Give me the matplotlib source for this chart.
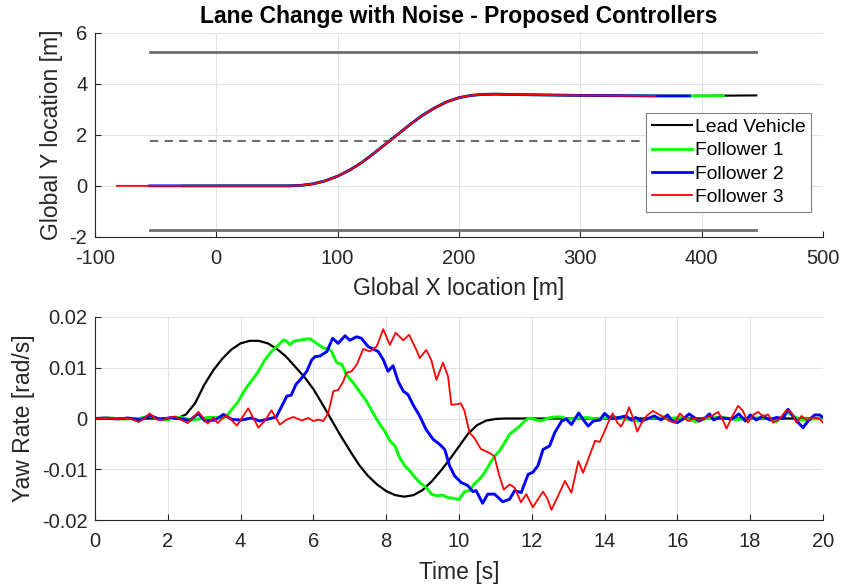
import matplotlib
matplotlib.use("Agg")
import matplotlib.pyplot as plt
import numpy as np

plt.rcParams['font.family'] = ['Liberation Sans', 'DejaVu Sans']
plt.rcParams['axes.unicode_minus'] = False

# ---------------- Top plot data (path in the global frame) ----------------
path_x = [-82, -55, -28, 0, 30, 60, 70, 80, 90, 100, 110, 120, 130, 140, 150, 160,
          170, 180, 190, 200, 210, 220, 230, 250, 300, 362, 390, 418, 445]
path_y = [0.0, 0.0, 0.0, 0.0, 0.0, 0.0, 0.02, 0.08, 0.2, 0.38, 0.62, 0.92, 1.28,
          1.66, 2.04, 2.42, 2.77, 3.06, 3.3, 3.46, 3.55, 3.59, 3.6, 3.58, 3.55,
          3.53, 3.53, 3.54, 3.55]
vehicle_names = ['Lead Vehicle', 'Follower 1', 'Follower 2', 'Follower 3']
vehicle_start_x = [0, -28, -55, -82]
vehicle_end_x = [445, 418, 390, 362]
lane_edges_y = [5.25, -1.75]
lane_center_y = 1.75
lane_x_range = [-55, 445]

# ---------------- Bottom plot data (yaw rate) ----------------
t_lead = [0, 2.25, 2.5, 2.75, 3.0, 3.25, 3.5, 3.75, 4.0, 4.25, 4.5, 4.75, 5.0, 5.25,
          5.5, 5.75, 6.0, 6.25, 6.5, 6.75, 7.0, 7.25, 7.5, 7.75, 8.0, 8.25, 8.5,
          8.75, 9.0, 9.25, 9.5, 9.75, 10.0, 10.25, 10.5, 10.75, 11.0, 11.25, 20.0]
r_lead = [0, 0, 0.0008, 0.003, 0.0066, 0.0095, 0.0118, 0.0136, 0.0148, 0.0153,
          0.0153, 0.0148, 0.0137, 0.0122, 0.0102, 0.0082, 0.0058, 0.0028, -0.0003,
          -0.0034, -0.0063, -0.0091, -0.0113, -0.0130, -0.0143, -0.0151, -0.0154,
          -0.0151, -0.0141, -0.0124, -0.0103, -0.0080, -0.0055, -0.0030, -0.0013,
          -0.0004, -0.0001, 0, 0]

t_f1 = [0, 0.4, 0.8, 1.2, 1.51, 1.75, 1.97, 2.2, 2.38, 2.66, 2.93, 3.1, 3.3, 3.53,
        3.65, 3.76, 3.94, 4.12, 4.31, 4.49, 4.67, 4.85, 5.04, 5.18, 5.27, 5.36,
        5.45, 5.59, 5.77, 5.91, 6.09, 6.27, 6.41, 6.5, 6.64, 6.78, 6.91, 7.1, 7.28,
        7.46, 7.64, 7.83, 7.96, 8.1, 8.24, 8.37, 8.51, 8.65, 8.79, 8.92, 9.1, 9.24,
        9.38, 9.56, 9.7, 9.84, 10.0, 10.15, 10.29, 10.42, 10.56, 10.7, 10.84,
        10.98, 11.11, 11.25, 11.39, 11.53, 11.67, 11.8, 11.94, 12.08, 12.26,
        12.45, 12.63, 12.82, 12.95, 13.2, 13.5, 13.8, 14.22, 14.5, 14.95, 15.33,
        15.7, 16.1, 16.5, 16.8, 17.2, 17.6, 18.0, 18.4, 18.72, 19.04, 19.36,
        19.73, 20.0]
r_f1 = [0, 0.0001, -0.0001, 0.0, 0.0005, -0.0001, -0.0003, 0.0002, 0.0002, -0.0003,
        0.0, 0.0002, 0.0002, 0.0001, 0.0008, 0.0018, 0.0034, 0.0057, 0.0075,
        0.0093, 0.0116, 0.0132, 0.0145, 0.0155, 0.0152, 0.0145, 0.0152, 0.0154,
        0.0156, 0.0157, 0.0148, 0.0139, 0.0137, 0.0132, 0.011, 0.0107, 0.0086,
        0.007, 0.0052, 0.0034, 0.0011, -0.0012, -0.0025, -0.0044, -0.0054,
        -0.0077, -0.0093, -0.0103, -0.0116, -0.0126, -0.0136, -0.0149, -0.0152,
        -0.0151, -0.0156, -0.0157, -0.016, -0.0144, -0.0142, -0.0129, -0.012,
        -0.0107, -0.009, -0.0074, -0.0064, -0.0048, -0.0031, -0.0023, -0.0015,
        -0.0005, 0.0001, -0.0002, -0.0005, 0.0001, 0.0003, 0.0003, -0.0001, 0.0,
        0.0002, -0.0001, 0.0004, 0.0, -0.0005, 0.0002, 0.0, 0.0002, -0.0006, 0.0,
        0.0003, -0.0002, 0.0, 0.0002, -0.0006, 0.0012, -0.0003, -0.0001, 0.0]

t_f2 = [0, 0.3, 0.6, 0.9, 1.24, 1.51, 1.8, 2.1, 2.4, 2.6, 2.84, 3.02, 3.3, 3.53,
        3.76, 4.03, 4.3, 4.52, 4.76, 4.98, 5.13, 5.27, 5.39, 5.52, 5.68, 5.82,
        5.95, 6.05, 6.18, 6.37, 6.53, 6.68, 6.87, 7.0, 7.19, 7.32, 7.5, 7.64, 7.78,
        7.92, 8.05, 8.19, 8.33, 8.47, 8.6, 8.74, 8.92, 9.1, 9.29, 9.47, 9.61,
        9.74, 9.88, 10.06, 10.24, 10.38, 10.47, 10.65, 10.79, 10.98, 11.2, 11.39,
        11.53, 11.71, 11.9, 12.03, 12.17, 12.31, 12.49, 12.63, 12.82, 12.95,
        13.09, 13.29, 13.41, 13.55, 13.69, 13.87, 14.0, 14.13, 14.27, 14.4,
        14.59, 14.73, 14.86, 15.0, 15.19, 15.37, 15.55, 15.73, 15.86, 16.0,
        16.18, 16.32, 16.46, 16.6, 16.78, 16.88, 17.0, 17.14, 17.33, 17.5, 17.69,
        17.87, 18.0, 18.17, 18.35, 18.54, 18.72, 18.9, 19.04, 19.18, 19.32,
        19.45, 19.59, 19.77, 19.91, 20.0]
r_f2 = [0, 0.0001, -0.0001, 0.0001, -0.0003, 0.0006, -0.0002, 0.0002, -0.0001,
        -0.0004, 0.001, -0.0005, -0.0003, 0.0008, -0.0002, -0.0003, 0.0001,
        -0.0005, -0.0001, 0.0003, 0.0024, 0.0044, 0.0046, 0.0067, 0.008, 0.0093,
        0.0115, 0.0122, 0.0123, 0.0132, 0.0158, 0.0148, 0.0163, 0.0154, 0.0161,
        0.0158, 0.0142, 0.0137, 0.0132, 0.0116, 0.0093, 0.0104, 0.0073, 0.0054,
        0.0047, 0.0027, 0.0005, -0.0022, -0.0041, -0.0051, -0.0061, -0.0093,
        -0.0113, -0.0126, -0.0132, -0.0144, -0.0142, -0.0167, -0.0149, -0.0149,
        -0.0164, -0.0159, -0.0142, -0.0146, -0.011, -0.0106, -0.0093, -0.0061,
        -0.0054, -0.0028, -0.0005, -0.0001, -0.0012, 0.0011, -0.0002, -0.0015,
        -0.0005, -0.0003, 0.001, 0.0002, 0.0, 0.0002, 0.0005, -0.0003, 0.0002,
        -0.0005, 0.0, 0.0005, -0.0003, 0.0007, -0.0005, -0.0008, 0.0, 0.0009,
        0.0002, -0.0005, 0.0002, 0.0009, -0.0003, 0.0002, 0.0, -0.0001, 0.0009,
        -0.0005, 0.0007, -0.0003, 0.0005, -0.0003, 0.0002, 0.0, 0.0018, 0.0004,
        -0.0008, -0.0018, -0.0005, 0.0007, 0.0007, 0.0002]

t_f3 = [0, 0.4, 0.6, 0.8, 1.0, 1.2, 1.35, 1.5, 1.7, 1.85, 2.0, 2.2, 2.35, 2.55,
        2.84, 3.1, 3.25, 3.37, 3.5, 3.62, 3.9, 4.21, 4.49, 4.67, 4.85, 5.08, 5.27,
        5.45, 5.68, 5.86, 6.0, 6.14, 6.27, 6.41, 6.55, 6.68, 6.82, 6.91, 7.05,
        7.19, 7.37, 7.55, 7.74, 7.92, 8.1, 8.26, 8.47, 8.63, 8.83, 8.92, 9.1,
        9.24, 9.38, 9.56, 9.7, 9.79, 9.93, 10.05, 10.15, 10.29, 10.42, 10.6,
        10.79, 10.97, 11.11, 11.23, 11.39, 11.53, 11.7, 11.85, 12.03, 12.17,
        12.31, 12.43, 12.54, 12.68, 12.91, 13.09, 13.28, 13.41, 13.55, 13.74,
        13.87, 14.0, 14.1, 14.22, 14.35, 14.45, 14.55, 14.67, 14.78, 14.9, 15.0,
        15.15, 15.33, 15.47, 15.65, 15.78, 15.93, 16.07, 16.21, 16.3, 16.44,
        16.62, 16.8, 16.94, 17.12, 17.26, 17.35, 17.49, 17.67, 17.8, 17.94,
        18.08, 18.22, 18.35, 18.49, 18.63, 18.81, 19.0, 19.13, 19.27, 19.41,
        19.55, 19.73, 19.91, 20.0]
r_f3 = [0, 0.0001, -0.0001, 0.0001, -0.0001, -0.0007, 0.0, 0.001, -0.0002, -0.0003,
        0.0001, 0.0004, -0.0002, -0.0009, 0.0013, -0.001, 0.0002, -0.0009, 0.0,
        0.0006, -0.0014, 0.002, -0.0018, -0.0004, 0.0016, -0.0012, -0.0002,
        0.0003, -0.0004, 0.0001, -0.0005, -0.0002, -0.0005, 0.0011, 0.0054,
        0.0056, 0.0073, 0.009, 0.0093, 0.0106, 0.0137, 0.0132, 0.0142, 0.0176,
        0.0145, 0.0169, 0.0154, 0.0165, 0.0135, 0.0119, 0.0135, 0.0115, 0.0076,
        0.011, 0.0083, 0.0027, 0.0028, 0.003, 0.0015, -0.0028, -0.0038, -0.006,
        -0.0066, -0.0074, -0.0113, -0.014, -0.013, -0.0136, -0.0165, -0.0149,
        -0.0175, -0.0159, -0.0144, -0.0158, -0.018, -0.0159, -0.0123, -0.0146,
        -0.0084, -0.0107, -0.008, -0.0044, -0.0046, -0.0025, -0.0008, 0.001,
        -0.0008, -0.0016, -0.0003, 0.0022, 0.0002, -0.0026, -0.0011, 0.0005,
        0.0015, 0.0009, 0.0002, -0.0005, -0.0008, 0.001, 0.0, -0.0005, 0.0,
        -0.0003, 0.0002, 0.0005, 0.0013, -0.0005, -0.002, 0.0002, 0.0025, 0.0015,
        -0.0008, 0.0007, 0.0013, 0.0004, 0.0008, -0.0008, -0.0001, 0.0017,
        0.0012, -0.0008, 0.0005, -0.0003, 0.0002, -0.0001, -0.0008]

colors = ['black', '#00ff00', '#0000ff', '#ff0000']
top_lw = [1.5, 2.0, 2.0, 1.3]
bot_lw = [1.6, 2.1, 2.1, 1.3]
tick_col = '#262626'
grid_col = '#e3e3e3'

fig = plt.figure(figsize=(8.42, 5.87), dpi=100)
ax1 = fig.add_axes([0.1128, 0.5966, 0.8646, 0.3472])
ax2 = fig.add_axes([0.1128, 0.1141, 0.8646, 0.3459])


def style(ax):
    for s in ['top', 'right']:
        ax.spines[s].set_visible(False)
    for s in ['left', 'bottom']:
        ax.spines[s].set_color(tick_col)
        ax.spines[s].set_linewidth(0.8)
    ax.tick_params(direction='in', length=4, width=0.8, colors=tick_col,
                   labelsize=14.5)
    ax.tick_params(axis='x', pad=8.5)
    ax.tick_params(axis='y', pad=5.5)
    ax.grid(True, color=grid_col, linewidth=0.8)
    ax.set_axisbelow(True)


# ----- top plot -----
style(ax1)
for yv in lane_edges_y:
    ax1.plot(lane_x_range, [yv, yv], color='#6e6e6e', lw=2.0)
ax1.plot(lane_x_range, [lane_center_y, lane_center_y], color='#6e6e6e', lw=1.5,
         ls=(0, (4, 3)))
px = np.array(path_x, dtype=float)
py = np.array(path_y, dtype=float)
handles = []
for name, x0, x1, c, lw in zip(vehicle_names, vehicle_start_x, vehicle_end_x,
                               colors, top_lw):
    m = (px >= x0) & (px <= x1)
    h, = ax1.plot(px[m], py[m], color=c, lw=lw, label=name)
    handles.append(h)
ax1.set_xlim(-100, 500)
ax1.set_ylim(-2, 6)
ax1.set_xticks([-100, 0, 100, 200, 300, 400, 500])
ax1.set_yticks([-2, 0, 2, 4, 6])
ax1.set_xlabel('Global X location [m]', fontsize=16.5, color=tick_col, labelpad=7)
ax1.set_ylabel('Global Y location [m]', fontsize=16.5, color=tick_col, labelpad=5)
ax1.set_title('Lane Change with Noise - Proposed Controllers', fontsize=16.5,
              fontweight='bold', color='black', pad=7)
leg = ax1.legend(handles=handles, loc='upper right', bbox_to_anchor=(0.9835, 0.608),
                 fontsize=13.9, frameon=True, fancybox=False, framealpha=1,
                 edgecolor='#808080', handlelength=2.05, handletextpad=0.15,
                 borderpad=0.3, labelspacing=0.3, borderaxespad=0)
leg.get_frame().set_linewidth(0.8)

# ----- bottom plot -----
style(ax2)
series_t = [t_lead, t_f1, t_f2, t_f3]
series_r = [r_lead, r_f1, r_f2, r_f3]
for tt, rr, c, lw in zip(series_t, series_r, colors, bot_lw):
    assert len(tt) == len(rr), (len(tt), len(rr))
    ax2.plot(tt, rr, color=c, lw=lw)
ax2.set_xlim(0, 20)
ax2.set_ylim(-0.02, 0.02)
ax2.set_xticks(np.arange(0, 21, 2))
ax2.set_yticks([-0.02, -0.01, 0, 0.01, 0.02])
ax2.set_yticklabels(['-0.02', '-0.01', '0', '0.01', '0.02'])
ax2.set_xlabel('Time [s]', fontsize=16.5, color=tick_col, labelpad=7)
ax2.set_ylabel('Yaw Rate [rad/s]', fontsize=16.5, color=tick_col, labelpad=5)

fig.savefig('out.png', dpi=100)
